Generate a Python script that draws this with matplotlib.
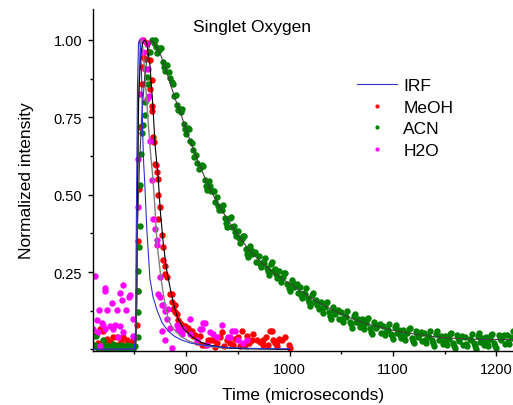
import matplotlib
matplotlib.use("Agg")
import matplotlib.pyplot as plt
from matplotlib.ticker import MultipleLocator, FormatStrFormatter

plt.rcParams['font.family'] = ['Liberation Sans', 'DejaVu Sans']

# IRF (instrument response), blue line
irf_t = [810, 850, 851, 852, 853, 854, 855, 856, 857, 858, 859, 860, 862, 865, 868,
         872, 877, 882.5, 889, 896, 905, 920, 940, 970, 1000]
irf_y = [0.0, 0.002, 0.05, 0.45, 0.85, 0.99, 1.0, 0.97, 0.88, 0.70, 0.60, 0.54, 0.39,
         0.23, 0.17, 0.126, 0.085, 0.06, 0.042, 0.03, 0.02, 0.012, 0.006, 0.003, 0.002]

# MeOH data points
meoh_t = [810.3, 812, 813, 815, 816.8, 818, 819.5, 821.6, 823, 824, 826.6, 828, 829.4, 831,
          833, 834, 836, 837, 839, 840, 842.9, 844, 846, 848.7, 850,
          852.5, 853.5, 853.5, 854, 855, 857, 857, 858, 858,
          860, 862, 863, 865, 865, 867, 867, 867, 868, 869, 870, 871, 872, 873, 873, 873,
          875, 877, 878, 878, 880, 880, 882, 884.5, 886, 886, 887, 889, 889, 891, 892, 892,
          894, 896, 897, 899, 899, 902, 904, 906, 907, 909, 911, 913, 915, 918, 921, 923,
          926, 928, 930, 933, 935, 937, 940, 942, 945.5, 947, 950, 952, 954, 957, 959, 961,
          964, 965, 968.7, 971.6, 974.5, 974.5, 977, 979, 981, 983, 984, 986, 988, 988, 990,
          993, 996, 999, 1000]
meoh_y = [0.045, 0.01, 0.048, 0.02, 0.065, 0.005, 0.06, 0.023, 0.01, 0.035, 0.023, 0.005,
          0.04, 0.015, 0.04, 0.016, 0.008, 0.025, 0.04, 0.012, 0.03, 0.006, 0.02, 0.03, 0.01,
          0.08, 0.19, 0.35, 0.52, 0.72, 0.857, 0.912, 0.944, 1.0,
          0.94, 0.99, 0.96, 0.934, 0.84, 0.87, 0.786, 0.77, 0.685, 0.67, 0.598, 0.595, 0.572,
          0.55, 0.50, 0.42,
          0.46, 0.37, 0.33, 0.29, 0.27, 0.243, 0.233, 0.18, 0.178, 0.152, 0.13, 0.145, 0.12,
          0.113, 0.094, 0.08,
          0.087, 0.08, 0.07, 0.077, 0.065, 0.07, 0.06, 0.06, 0.045, 0.048, 0.023, 0.045, 0.016,
          0.013, 0.03, 0.03,
          0.03, 0.008, 0.02, 0.04, 0.055, 0.012, 0.032, 0.02, 0.016, 0.035, 0.04, 0.01, 0.06,
          0.013, 0.045, 0.02,
          0.03, 0.05, 0.032, 0.023, 0.013, 0.03, 0.04, 0.015, 0.06, 0.06, 0.03, 0.02, 0.01,
          0.023, 0.035,
          0.03, 0.04, 0.013, 0.006]

# ACN data points
acn_t = [810, 812, 813, 815, 817, 819.5, 821, 823, 825, 827, 829, 831, 833, 835, 837, 839,
         841, 843, 845, 847, 849, 851,
         853.5, 853.5, 853.7, 853.5, 854, 855, 855, 856, 857, 858, 860, 860, 862, 863, 865,
         867, 869,
         870, 872, 874, 876, 878, 880, 882, 884, 886, 888, 890, 892, 894, 896, 898, 900,
         902, 904, 906, 908, 910, 912, 914, 916, 918, 920, 922, 924, 926, 928, 930,
         932, 934, 936, 938, 940, 942, 944, 946, 948, 950, 952, 954, 956, 958, 960,
         962, 964, 966, 968, 970, 972, 974, 976, 978, 980, 982, 984, 986, 988, 990,
         992, 994, 996, 998, 1000, 1002, 1004, 1006, 1008, 1010, 1012, 1014, 1016, 1018, 1020,
         1022, 1024, 1026, 1028, 1030, 1032, 1034, 1036, 1038, 1040, 1042, 1044, 1046, 1048,
         1050, 1052, 1054, 1056, 1058, 1060, 1062, 1064, 1066, 1068, 1070, 1072, 1074, 1076,
         1078, 1080, 1082, 1084, 1086, 1088, 1090, 1092, 1094, 1096, 1098, 1100, 1102, 1104,
         1106, 1108, 1110, 1112, 1114, 1116, 1118, 1120, 1122, 1124, 1126, 1128, 1130, 1132,
         1134, 1136, 1138, 1140, 1142, 1144, 1146, 1148, 1150, 1152, 1154, 1156, 1158, 1160,
         1162, 1164, 1166, 1168, 1170, 1172, 1174, 1176, 1178, 1180, 1182, 1184, 1186, 1188,
         1190, 1192, 1194, 1196, 1198, 1200, 1202, 1204, 1206, 1208, 1210, 1212, 1214, 1216]
acn_y = [0.008, 0.015, 0.042, 0.004, 0.012, 0.03, 0.006, 0.014, 0.002, 0.01, 0.018, 0.005,
         0.012, 0.003, 0.015, 0.008, 0.004, 0.013, 0.006, 0.01, 0.003, 0.012,
         0.04, 0.12, 0.19, 0.255, 0.33, 0.40, 0.53, 0.63, 0.70, 0.724, 0.757, 0.80, 0.88,
         0.857, 0.96, 1.0, 0.99,
         1.0, 0.959, 0.968, 0.973, 0.930, 0.900, 0.918, 0.876, 0.865, 0.819, 0.822, 0.774,
         0.778, 0.778, 0.730, 0.695,
         0.715, 0.675, 0.666, 0.622, 0.627, 0.582, 0.589, 0.592, 0.547, 0.515, 0.544, 0.513,
         0.513, 0.478, 0.492,
         0.450, 0.460, 0.466, 0.424, 0.395, 0.426, 0.397, 0.399, 0.366, 0.382, 0.343, 0.356,
         0.365, 0.326, 0.300,
         0.334, 0.308, 0.313, 0.283, 0.302, 0.267, 0.284, 0.297, 0.262, 0.240, 0.276, 0.252,
         0.259, 0.231, 0.252,
         0.217, 0.234, 0.247, 0.212, 0.190, 0.226, 0.202, 0.209, 0.181, 0.202, 0.167, 0.184,
         0.197, 0.162, 0.140,
         0.176, 0.152, 0.159, 0.131, 0.152, 0.119, 0.138, 0.153, 0.120, 0.100, 0.138, 0.116,
         0.125, 0.099,
         0.122, 0.089, 0.108, 0.123, 0.090, 0.070, 0.109, 0.088, 0.098, 0.073, 0.097, 0.065,
         0.085, 0.101,
         0.069, 0.050, 0.089, 0.068, 0.078, 0.053, 0.077, 0.046, 0.066, 0.083, 0.051, 0.033,
         0.072, 0.052,
         0.062, 0.038, 0.062, 0.031, 0.052, 0.069, 0.038, 0.020, 0.060, 0.040, 0.051, 0.027,
         0.052, 0.021,
         0.042, 0.060, 0.029, 0.011, 0.051, 0.031, 0.043, 0.019, 0.044, 0.014, 0.035, 0.053,
         0.022, 0.005,
         0.046, 0.027, 0.039, 0.015, 0.041, 0.011, 0.033, 0.050, 0.020, 0.003, 0.044, 0.025,
         0.037, 0.014,
         0.040, 0.010, 0.033, 0.051, 0.022, 0.005, 0.047, 0.029, 0.042, 0.019, 0.046, 0.017,
         0.040, 0.060]
# ACN, points in between the ones above
acn_t2 = [871, 875, 879, 883, 887, 891, 895, 899, 903, 907, 911, 915, 919, 923, 927, 931,
          935, 939, 943, 947, 951, 955, 959, 963, 967, 971, 975, 979, 983, 987, 991, 995,
          999, 1003, 1007, 1011, 1015, 1019, 1023, 1027, 1031, 1035, 1039, 1043, 1047, 1051,
          1055, 1059, 1063, 1067, 1071, 1075, 1079, 1083, 1087, 1091, 1095, 1099, 1103, 1107,
          1111, 1115, 1119, 1123, 1127, 1131, 1135, 1139, 1143, 1147, 1151, 1155, 1159, 1163,
          1167, 1171, 1175, 1179, 1183, 1187, 1191, 1195, 1199, 1203, 1207, 1211, 1215]
acn_y2 = [0.978, 0.975, 0.912, 0.898, 0.859, 0.790, 0.766, 0.713, 0.713, 0.643, 0.602,
          0.596, 0.528, 0.529, 0.512, 0.463, 0.451, 0.410, 0.429, 0.381, 0.360, 0.366, 0.310,
          0.322, 0.315, 0.277, 0.279, 0.252, 0.282, 0.244, 0.232, 0.246, 0.198, 0.215, 0.212,
          0.177, 0.179, 0.152, 0.182, 0.144, 0.133, 0.151, 0.107, 0.128, 0.129, 0.098, 0.104,
          0.081, 0.116, 0.084, 0.078, 0.098, 0.056, 0.079, 0.082, 0.053, 0.063, 0.043, 0.079,
          0.048, 0.044, 0.066, 0.026, 0.051, 0.056, 0.029, 0.039, 0.020, 0.059, 0.029, 0.026,
          0.049, 0.010, 0.037, 0.043, 0.018, 0.030, 0.012, 0.052, 0.024, 0.022, 0.047, 0.010,
          0.038, 0.047, 0.024, 0.038]

# H2O data points
h2o_t = [810.3, 811.6, 813.5, 814.8, 815.7, 816.8, 818.7, 819.5, 821.3, 821.6, 822, 823.5,
         826.6, 828, 829.4, 831.4, 833, 834, 836, 836, 838, 839, 839, 842, 845, 845.7,
         848.7, 848.7, 850,
         853.5, 853.5, 855, 857, 858, 860, 862, 862, 863, 864, 865, 867, 868, 870, 872, 872,
         873, 875, 875, 877, 878, 880, 882, 882.5, 877, 880, 884.5, 886, 891, 892, 894, 896,
         897, 904, 904, 910.6, 913.5, 915, 916.5, 918, 920, 923, 926, 930, 935, 940.6,
         942.6, 944.6, 947, 950, 955, 959]
h2o_y = [0.065, 0.236, 0.094, 0.055, 0.126, 0.01, 0.087, 0.08, 0.197, 0.065, 0.19, 0.126,
         0.077, 0.15, 0.065, 0.08, 0.126, 0.04, 0.184, 0.077, 0.16, 0.207, 0.055, 0.126, 0.17,
         0.175, 0.097, 0.045, 0.04,
         0.46, 0.614, 0.825, 1.0, 0.96, 0.905, 0.986, 0.81, 0.905, 0.82, 0.675, 0.546, 0.42,
         0.39, 0.355, 0.336,
         0.178, 0.233, 0.168, 0.145, 0.145, 0.125, 0.10, 0.13, 0.06, 0.03, 0.07, 0.006, 0.08,
         0.065, 0.06, 0.05,
         0.065, 0.097, 0.05, 0.032, 0.065, 0.065, 0.087, 0.087, 0.016, 0.055, 0.05, 0.04,
         0.08, 0.04,
         0.04, 0.06, 0.06, 0.03, 0.02, 0.03]

# fitted curves
fit_h2o_t = [810, 851, 852, 853, 854, 855, 856, 857, 858, 860, 863, 866, 868, 870, 872, 875,
             877, 880, 882.5, 886, 890, 896, 903, 910, 920, 935, 960]
fit_h2o_y = [0.0, 0.0, 0.1, 0.45, 0.8, 0.95, 0.99, 1.0, 0.98, 0.9, 0.75, 0.62, 0.55, 0.45,
             0.34, 0.25, 0.2, 0.14, 0.10, 0.075, 0.058, 0.04, 0.027, 0.018, 0.01, 0.005, 0.002]

fit_meoh_t = [810, 851, 852, 853, 854, 856, 858, 860, 862, 865, 868, 870, 873, 875, 878, 881,
              884.5, 888, 892, 898, 906, 915, 925, 940, 960, 1000]
fit_meoh_y = [0.0, 0.0, 0.1, 0.5, 0.8, 0.95, 0.99, 1.0, 0.99, 0.92, 0.78, 0.66, 0.556, 0.45,
              0.34, 0.26, 0.2, 0.145, 0.10, 0.065, 0.04, 0.022, 0.012, 0.005, 0.002, 0.0]

fit_acn_t = [810, 851, 852, 853, 855, 857, 860, 863, 866, 870, 875, 880, 885, 890, 895, 900,
             910, 920, 930, 940, 950, 960, 970, 980, 990, 1000, 1010, 1020, 1030, 1040, 1050,
             1060, 1070, 1080, 1090, 1100, 1110, 1120, 1130, 1140, 1150, 1160, 1170, 1180,
             1190, 1200, 1216]
fit_acn_y = [0.0, 0.0, 0.1, 0.4, 0.6, 0.75, 0.88, 0.96, 1.0, 0.985, 0.955, 0.91, 0.855,
             0.805, 0.76, 0.71, 0.62, 0.54, 0.475, 0.42, 0.37, 0.325, 0.29, 0.26, 0.235,
             0.212, 0.19, 0.168, 0.148, 0.13, 0.115, 0.1, 0.088, 0.078, 0.07, 0.062, 0.055,
             0.05, 0.045, 0.041, 0.038, 0.036, 0.034, 0.033, 0.032, 0.032, 0.032]

fig = plt.figure(figsize=(5.13, 4.06), dpi=100)
ax = fig.add_axes([93 / 513, 1 - 352 / 406, 420 / 513, 342 / 406])

ms = 4.6
ax.plot(meoh_t, meoh_y, 'o', color='#ff0000', ms=ms, mew=0, label='MeOH', zorder=2)
ax.plot(acn_t + acn_t2, acn_y + acn_y2, 'o', color='#008000', ms=ms, mew=0, label='ACN',
        zorder=2)
ax.plot(h2o_t, h2o_y, 'o', color='#ff00ff', ms=ms, mew=0, label='H2O', zorder=2)

ax.plot(fit_h2o_t, fit_h2o_y, color='#808080', lw=1.0, zorder=3)
ax.plot(fit_meoh_t, fit_meoh_y, color='black', lw=0.8, zorder=3)
ax.plot(fit_acn_t, fit_acn_y, color='#404040', lw=0.8, zorder=3)
ax.plot(irf_t, irf_y, color='#3030d0', lw=0.8, label='IRF', zorder=4)

ax.set_xlim(810, 1216)
ax.set_ylim(-0.005, 1.10)

ax.xaxis.set_major_locator(MultipleLocator(100))
ax.xaxis.set_minor_locator(MultipleLocator(50))
ax.set_yticks([0.25, 0.5, 0.75, 1.0])
ax.yaxis.set_minor_locator(MultipleLocator(0.125))
ax.yaxis.set_major_formatter(FormatStrFormatter('%.2f'))

for side in ['top', 'right']:
    ax.spines[side].set_visible(False)
for side in ['left', 'bottom']:
    ax.spines[side].set_linewidth(1.0)

ax.tick_params(which='major', direction='out', length=3.6, width=1, labelsize=10.5, pad=4.3)
ax.tick_params(which='minor', direction='out', length=2.2, width=1)

ax.set_xlabel('Time (microseconds)', fontsize=12.5, labelpad=8)
ax.set_ylabel('Normalized intensity', fontsize=12.5, labelpad=14)
ax.text(0.238, 0.95, 'Singlet Oxygen', transform=ax.transAxes, fontsize=12.5,
        ha='left', va='center')

handles, labels = ax.get_legend_handles_labels()
order = [3, 0, 1, 2]
leg = ax.legend([handles[i] for i in order], [labels[i] for i in order],
                loc='upper left', bbox_to_anchor=(0.629, 0.798), frameon=False,
                fontsize=12.5, borderpad=0, borderaxespad=0, handlelength=2.3,
                handletextpad=0.35, labelspacing=0.37, markerscale=0.65)

fig.savefig('out.png', dpi=100)
